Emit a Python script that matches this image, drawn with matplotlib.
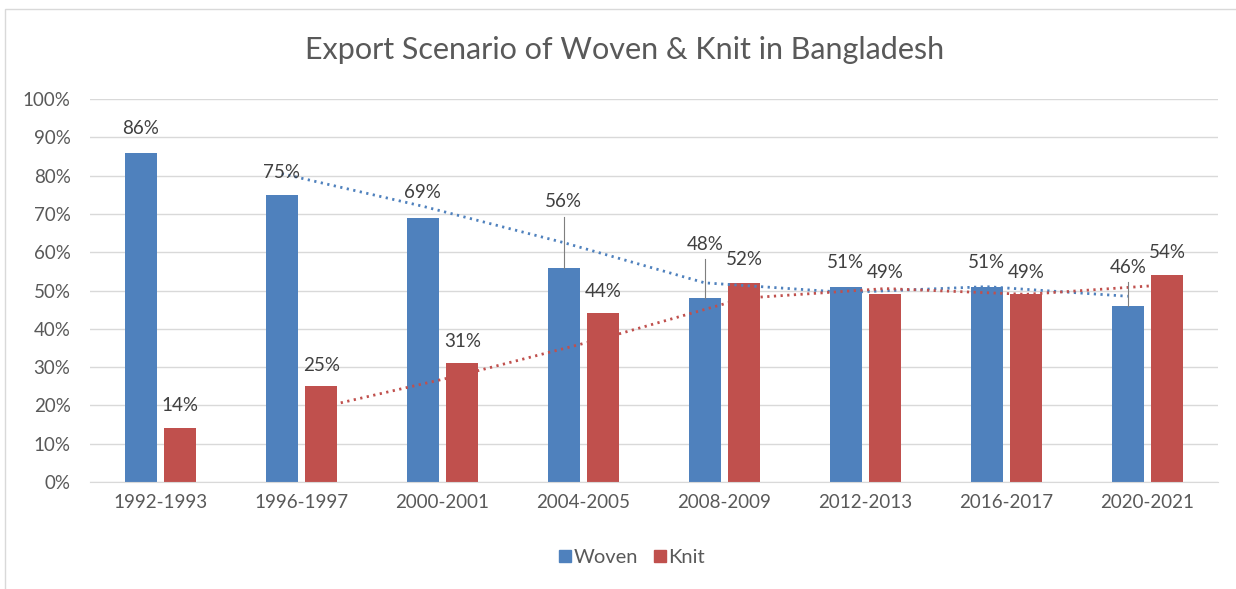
import numpy as np
import matplotlib.pyplot as plt
from matplotlib.lines import Line2D
from matplotlib.patches import Rectangle

plt.rcParams['font.family'] = ['Lato', 'DejaVu Sans']

# data
years = ["1992-1993", "1996-1997", "2000-2001", "2004-2005",
         "2008-2009", "2012-2013", "2016-2017", "2020-2021"]
woven = [0.86, 0.75, 0.69, 0.56, 0.48, 0.51, 0.51, 0.46]
knit = [0.14, 0.25, 0.31, 0.44, 0.52, 0.49, 0.49, 0.54]

# where the data labels sit (Excel moved some of them by hand)
woven_lab_y = [0.922, 0.809, 0.755, 0.733, 0.621, 0.574, 0.574, 0.561]
knit_lab_y = [0.201, 0.303, 0.368, 0.498, 0.581, 0.548, 0.548, 0.598]
leader = [3, 4, 7]  # woven labels with a leader line

blue = "#4F81BD"
red = "#C0504D"
txt = "#595959"

def moving_avg(v, n=2):
    v = np.array(v)
    return np.convolve(v, np.ones(n) / n, mode="valid")

fig = plt.figure(figsize=(12.36, 5.89), dpi=100)
ax = fig.add_axes([90 / 1236, 1 - 482 / 589, 1128 / 1236, 383 / 589])

x = np.arange(len(years))
w = 0.225
off = 0.14
ax.bar(x - off, woven, w, color=blue, zorder=2)
ax.bar(x + off, knit, w, color=red, zorder=2)

# 2 period moving average trendlines
ax.plot(x[1:] - off, moving_avg(woven), color=blue, lw=2,
        ls=(0, (0.8, 1.6)), zorder=3)
ax.plot(x[1:] + off, moving_avg(knit), color=red, lw=2,
        ls=(0, (0.8, 1.6)), zorder=3)

for i in range(len(years)):
    ax.text(x[i] - off, woven_lab_y[i], f"{round(woven[i]*100)}%",
            ha="center", va="center", fontsize=13.5, color="#404040", zorder=4)
    ax.text(x[i] + off, knit_lab_y[i], f"{round(knit[i]*100)}%",
            ha="center", va="center", fontsize=13.5, color="#404040", zorder=4)
    if i in leader:
        ax.plot([x[i] - off, x[i] - off], [woven[i], woven_lab_y[i] - 0.04],
                color="#7f7f7f", lw=0.8, zorder=3)

ax.set_xlim(-0.5, len(years) - 0.5)
ax.set_ylim(0, 1)
ax.set_yticks(np.arange(0, 1.01, 0.1))
ax.set_yticklabels([f"{int(round(t*100))}%" for t in np.arange(0, 1.01, 0.1)])
ax.set_xticks(x)
ax.set_xticklabels(years)
ax.tick_params(length=0, labelsize=13.5, colors=txt)
ax.tick_params(axis="y", pad=14)
ax.tick_params(axis="x", pad=9)
ax.grid(axis="y", color="#d9d9d9", lw=1, zorder=0)
for s in ["top", "right", "left"]:
    ax.spines[s].set_visible(False)
ax.spines["bottom"].set_color("#d9d9d9")

fig.text(625 / 1236, 1 - 50 / 589, "Export Scenario of Woven & Knit in Bangladesh",
         ha="center", va="center", fontsize=22, color=txt)

handles = [Line2D([], [], ls="", marker="s", markersize=9, color=blue),
           Line2D([], [], ls="", marker="s", markersize=9, color=red)]
fig.legend(handles, ["Woven", "Knit"], loc="center", ncol=2,
           bbox_to_anchor=(630 / 1236, 1 - 557 / 589), frameon=False,
           fontsize=14.5, labelcolor=txt, handletextpad=-0.1, columnspacing=0.6,
           handlelength=1)

# thin outer chart frame
fig.patches.append(Rectangle((5 / 1236, -0.1), 1.2, 1 - 9 / 589 + 0.1,
                             transform=fig.transFigure, fill=False,
                             edgecolor="#d9d9d9", lw=1))

fig.savefig("out.png", dpi=100)
